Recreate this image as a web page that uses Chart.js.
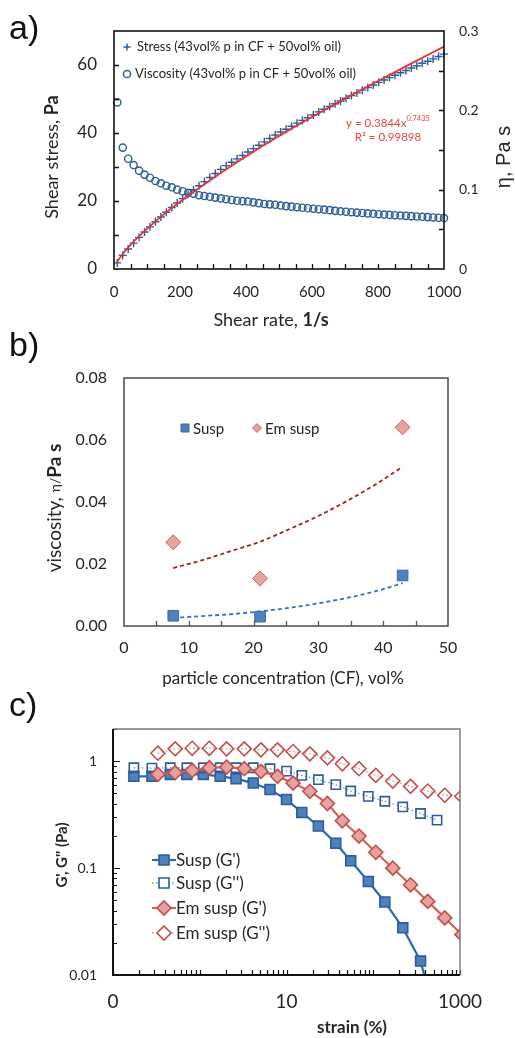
<!DOCTYPE html>
<html>
<head>
<meta charset="utf-8">
<script src="https://cdn.jsdelivr.net/npm/chart.js@4.4.0/dist/chart.umd.min.js"></script>
<style>
  body { margin: 0; background: #fff; width: 515px; height: 1038px; position: relative; overflow: hidden; }
  canvas { position: absolute; left: 0; }
</style>
</head>
<body>
<canvas id="chartA" width="515" height="330" style="top:0"></canvas>
<canvas id="chartB" width="515" height="360" style="top:330px"></canvas>
<canvas id="chartC" width="515" height="348" style="top:690px"></canvas>
<script>
// ---- a) flow curve ----
const shearRate = [10, 26.5, 43, 59.5, 76, 92.5, 109, 125.5, 142, 158.5,
  175, 191.5, 208, 224.5, 241, 257.5, 274, 290.5, 307, 323.5,
  340, 356.5, 373, 389.5, 406, 422.5, 439, 455.5, 472, 488.5,
  505, 521.5, 538, 554.5, 571, 587.5, 604, 620.5, 637, 653.5,
  670, 686.5, 703, 719.5, 736, 752.5, 769, 785.5, 802, 818.5,
  835, 851.5, 868, 884.5, 901, 917.5, 934, 950.5, 967, 983.5, 1000];
const shearStress = [1.8, 4.0, 5.9, 7.6, 9.3, 10.9, 12.4, 13.9, 15.3, 16.7,
  18.1, 19.4, 20.7, 22.0, 23.3, 24.5, 25.7, 26.9, 28.1, 29.3,
  30.4, 31.4, 32.4, 33.4, 34.4, 35.4, 36.4, 37.4, 38.4, 39.4,
  40.3, 41.1, 42.0, 42.9, 43.7, 44.5, 45.3, 46.2, 47.0, 47.8,
  48.6, 49.4, 50.2, 51.0, 51.8, 52.6, 53.4, 54.1, 54.9, 55.6,
  56.3, 57.0, 57.7, 58.4, 59.1, 59.8, 60.5, 61.1, 61.8, 62.5, 63.2];
const viscosityA = [0.210, 0.153, 0.139, 0.131, 0.124, 0.119, 0.115, 0.111, 0.108, 0.105,
  0.103, 0.100, 0.098, 0.096, 0.095, 0.093, 0.092, 0.091, 0.090, 0.089,
  0.088, 0.087, 0.086, 0.0855, 0.085, 0.084, 0.083, 0.082, 0.0815, 0.081,
  0.0800, 0.0793, 0.0786, 0.0779, 0.0772, 0.0766, 0.0760, 0.0754, 0.0748, 0.0742,
  0.0733, 0.0727, 0.0722, 0.0716, 0.0711, 0.0706, 0.0701, 0.0696, 0.0691, 0.0686,
  0.0682, 0.0678, 0.0674, 0.0670, 0.0666, 0.0662, 0.0658, 0.0654, 0.0650, 0.0646, 0.0642];
const fitRate = [8, 20, 50, 100, 150, 200, 300, 400, 500, 600, 700, 800, 900, 1000];
const fitStress = [1.8, 3.6, 7.1, 11.8, 16.0, 19.8, 26.7, 33.1, 39.1, 44.7, 50.1, 55.3, 60.4, 65.4];
const aTicksX = [0, 200, 400, 600, 800, 1000];
const aLabelsX = ["0", "200", "400", "600", "800", "1000"];
const aTicksY = [0, 20, 40, 60];
const aTicksY2 = [0, 0.1, 0.2, 0.3];
const aLabelsY2 = ["0", "0.1", "0.2", "0.3"];

// ---- b) viscosity vs concentration ----
const concB = [7.6, 21, 43];
const suspVisc = [0.0033, 0.0030, 0.0163];
const emVisc = [0.0270, 0.0153, 0.0641];
const trendConc = [7.6, 12, 17, 21, 26, 30, 35, 39, 43];
const suspTrend = [0.0026, 0.0032, 0.0039, 0.0047, 0.0060, 0.0073, 0.0093, 0.0113, 0.0138];
const emTrend = [0.0187, 0.0212, 0.0245, 0.0272, 0.0317, 0.0355, 0.0410, 0.0459, 0.0514];
const bTicksX = [0, 10, 20, 30, 40, 50];
const bTicksY = [0, 0.02, 0.04, 0.06, 0.08];

// ---- c) amplitude sweep ----
const suspStrain = [0.174, 0.281, 0.457, 0.709, 1.10, 1.72, 2.62, 4.14, 6.45, 10.0,
  15.0, 23.3, 37.0, 55.0, 87.7, 136, 219, 351, 544];
const suspGp = [0.721, 0.721, 0.752, 0.752, 0.752, 0.721, 0.686, 0.624, 0.542, 0.438,
  0.331, 0.247, 0.171, 0.117, 0.0749, 0.0482, 0.0276, 0.0135, 0.0035];
const suspGpp = [0.868, 0.861, 0.868, 0.868, 0.868, 0.868, 0.868, 0.868, 0.850, 0.807,
  0.736, 0.671, 0.603, 0.526, 0.469, 0.422, 0.373, 0.324, 0.281];
const emStrain = [0.329, 0.521, 0.818, 1.29, 2.04, 3.26, 5.08, 7.88, 11.9, 18.6,
  29.6, 44.0, 68.5, 107, 168, 269, 425, 667, 1050];
const emGp = [0.752, 0.780, 0.819, 0.868, 0.880, 0.850, 0.802, 0.721, 0.624, 0.523,
  0.402, 0.277, 0.1995, 0.1406, 0.0998, 0.0698, 0.0488, 0.0342, 0.0239];
const emGpp = [1.187, 1.304, 1.321, 1.321, 1.304, 1.304, 1.276, 1.276, 1.231, 1.172,
  1.075, 0.946, 0.850, 0.736, 0.652, 0.582, 0.526, 0.480, 0.470];
const cTicksX = [0.1, 10, 1000];
const cLabelsX = ["0", "10", "1000"];
const cTicksY = [0.01, 0.1, 1];
const cLabelsY = ["0.01", "0.1", "1"];

const BLUE_DARK = "#2d5d9b";
const BLUE = "#4f81bd";
const RED = "#c0504d";
const PINK = "#e6a29e";
const TXT = "#262626";

function pts(xs, ys) {
  return xs.map((x, i) => ({ x: x, y: ys[i] }));
}

function fixedTicks(values) {
  return function (scale) {
    scale.ticks = values.map((v) => ({ value: v }));
  };
}

function axis(extra) {
  return Object.assign({
    grid: { display: false, drawTicks: false },
    border: { display: false },
  }, extra);
}

// text made of parts with different fonts, centered on (x, y)
function drawRich(ctx, parts, x, y, angle) {
  ctx.save();
  ctx.translate(x, y);
  ctx.rotate(angle || 0);
  let total = 0;
  parts.forEach((p) => {
    ctx.font = p.font;
    p.w = ctx.measureText(p.text).width;
    total += p.w;
  });
  let cx = -total / 2;
  ctx.textAlign = "left";
  ctx.textBaseline = "middle";
  parts.forEach((p) => {
    ctx.font = p.font;
    ctx.fillStyle = p.color || TXT;
    ctx.fillText(p.text, cx, p.dy || 0);
    cx += p.w;
  });
  ctx.restore();
}

function text(ctx, s, x, y, font, color, align) {
  ctx.save();
  ctx.font = font;
  ctx.fillStyle = color || TXT;
  ctx.textAlign = align || "left";
  ctx.textBaseline = "middle";
  ctx.fillText(s, x, y);
  ctx.restore();
}

// tick marks pointing into the plot
function innerTicks(ctx, scale, values, len, side) {
  const a = scale.chart.chartArea;
  ctx.beginPath();
  values.forEach((v) => {
    const p = Math.round(scale.getPixelForValue(v)) + 0.5;
    if (side === "bottom") { ctx.moveTo(p, a.bottom); ctx.lineTo(p, a.bottom - len); }
    if (side === "left") { ctx.moveTo(a.left, p); ctx.lineTo(a.left + len, p); }
    if (side === "right") { ctx.moveTo(a.right, p); ctx.lineTo(a.right - len, p); }
  });
  ctx.stroke();
}

function range(from, to, step) {
  const out = [];
  for (let v = from; v <= to + 1e-9; v += step) out.push(v);
  return out;
}

function logMinor(lo, hi) {
  const out = [];
  for (let d = lo; d < hi; d *= 10) {
    for (let k = 1; k <= 9; k++) out.push(d * k);
  }
  out.push(hi);
  return out;
}

function marker(ctx, style, x, y, r, fill, stroke, lw) {
  ctx.save();
  ctx.lineWidth = lw;
  ctx.strokeStyle = stroke;
  ctx.fillStyle = fill;
  ctx.beginPath();
  if (style === "rect") ctx.rect(x - r, y - r, 2 * r, 2 * r);
  if (style === "diamond") { ctx.moveTo(x, y - r); ctx.lineTo(x + r, y); ctx.lineTo(x, y + r); ctx.lineTo(x - r, y); ctx.closePath(); }
  if (style === "circle") ctx.arc(x, y, r, 0, Math.PI * 2);
  if (style === "plus") { ctx.moveTo(x - r, y); ctx.lineTo(x + r, y); ctx.moveTo(x, y - r); ctx.lineTo(x, y + r); }
  if (fill !== "none" && style !== "plus") ctx.fill();
  ctx.stroke();
  ctx.restore();
}

// ================= chart a =================
new Chart(document.getElementById("chartA"), {
  type: "scatter",
  data: {
    datasets: [
      {
        label: "fit",
        type: "line",
        data: pts(fitRate, fitStress),
        borderColor: "#e8342b",
        borderWidth: 1.8,
        pointRadius: 0,
        cubicInterpolationMode: "monotone",
        yAxisID: "y",
        order: 0,
        clip: false,
      },
      {
        label: "Stress (43vol% p in CF + 50vol% oil)",
        data: pts(shearRate, shearStress),
        pointStyle: "cross",
        pointRadius: 4,
        pointBorderWidth: 1.4,
        borderColor: BLUE_DARK,
        backgroundColor: BLUE_DARK,
        yAxisID: "y",
        order: 1,
        clip: false,
      },
      {
        label: "Viscosity (43vol% p in CF + 50vol% oil)",
        data: pts(shearRate, viscosityA),
        pointStyle: "circle",
        pointRadius: 3.6,
        pointBorderWidth: 1.4,
        borderColor: BLUE_DARK,
        backgroundColor: "rgba(0,0,0,0)",
        yAxisID: "y2",
        order: 2,
        clip: false,
      },
    ],
  },
  options: {
    responsive: false,
    animation: false,
    events: [],
    layout: { autoPadding: false, padding: { top: 31, left: 0, right: 0, bottom: 0 } },
    plugins: { legend: { display: false }, tooltip: { enabled: false } },
    scales: {
      x: axis({
        type: "linear", min: 0, max: 1000,
        afterFit: (s) => { s.height = 61; },
        afterBuildTicks: fixedTicks(aTicksX),
        ticks: { padding: 14, color: TXT, font: { family: "Lato", size: 15 }, maxRotation: 0, autoSkip: false, callback: (v, i) => aLabelsX[i] },
      }),
      y: axis({
        position: "left", min: 0, max: 70,
        afterFit: (s) => { s.width = 114; },
        afterBuildTicks: fixedTicks(aTicksY),
        ticks: { padding: 17, color: TXT, font: { family: "Lato", size: 17 } },
      }),
      y2: axis({
        position: "right", min: 0, max: 0.3,
        afterFit: (s) => { s.width = 71; },
        afterBuildTicks: fixedTicks(aTicksY2),
        ticks: { padding: 15, color: TXT, font: { family: "Lato", size: 14 }, callback: (v, i) => aLabelsY2[i] },
      }),
    },
  },
  plugins: [{
    id: "decorA",
    afterDraw(chart) {
      const ctx = chart.ctx;
      const a = chart.chartArea;
      ctx.save();
      ctx.strokeStyle = "#111";
      ctx.lineWidth = 1.3;
      innerTicks(ctx, chart.scales.x, range(50, 950, 50), 5, "bottom");
      innerTicks(ctx, chart.scales.y, range(10, 60, 10), 5, "left");
      innerTicks(ctx, chart.scales.y2, range(0.05, 0.25, 0.05), 5, "right");
      ctx.lineWidth = 1.6;
      ctx.strokeRect(a.left, a.top, a.right - a.left, a.bottom - a.top);
      ctx.restore();

      text(ctx, "a)", 9, 30, "34px 'Liberation Sans'", "#111");
      drawRich(ctx, [
        { text: "Shear stress, ", font: "18px Lato" },
        { text: "Pa", font: "bold 18px Lato" },
      ], 52, 157, -Math.PI / 2);
      drawRich(ctx, [{ text: "η, Pa s", font: "20px 'Liberation Sans'" }], 504, 157, -Math.PI / 2);
      drawRich(ctx, [
        { text: "Shear rate, ", font: "18px Lato" },
        { text: "1/s", font: "bold 18px Lato" },
      ], 271, 320, 0);

      // legend
      marker(ctx, "plus", 127, 47, 3.5, "none", BLUE_DARK, 1.5);
      text(ctx, chart.data.datasets[1].label, 137, 47, "13px Lato", TXT);
      marker(ctx, "circle", 127, 74, 3.6, "none", BLUE_DARK, 1.5);
      text(ctx, chart.data.datasets[2].label, 135, 74, "13px Lato", TXT);

      // trendline equation
      drawRich(ctx, [
        { text: "y = 0.3844x", font: "11.5px Lato", color: "#e8453c" },
        { text: "0.7435", font: "7.5px Lato", color: "#e8453c", dy: -4 },
      ], 388, 123, 0);
      drawRich(ctx, [{ text: "R² = 0.99898", font: "11.5px Lato", color: "#e8453c" }], 388, 137, 0);
    },
  }],
});

// ================= chart b =================
new Chart(document.getElementById("chartB"), {
  type: "scatter",
  data: {
    datasets: [
      {
        label: "Susp",
        data: pts(concB, suspVisc),
        pointStyle: "rect",
        pointRadius: 7.5,
        pointBorderWidth: 1,
        borderColor: "#3a6aa5",
        backgroundColor: BLUE,
        order: 0,
        clip: false,
      },
      {
        label: "Em susp",
        data: pts(concB, emVisc),
        pointStyle: "rectRot",
        pointRadius: 7.5,
        pointBorderWidth: 1,
        borderColor: "#c46a66",
        backgroundColor: PINK,
        order: 1,
        clip: false,
      },
      {
        label: "susp trend",
        type: "line",
        data: pts(trendConc, suspTrend),
        borderColor: "#3c70b4",
        borderWidth: 1.8,
        borderDash: [4, 3],
        pointRadius: 0,
        cubicInterpolationMode: "monotone",
        order: 2,
      },
      {
        label: "em trend",
        type: "line",
        data: pts(trendConc, emTrend),
        borderColor: "#a3231f",
        borderWidth: 1.8,
        borderDash: [4, 3],
        pointRadius: 0,
        cubicInterpolationMode: "monotone",
        order: 3,
      },
    ],
  },
  options: {
    responsive: false,
    animation: false,
    events: [],
    layout: { autoPadding: false, padding: { top: 48, left: 0, right: 67, bottom: 0 } },
    plugins: { legend: { display: false }, tooltip: { enabled: false } },
    scales: {
      x: axis({
        type: "linear", min: 0, max: 50,
        afterFit: (s) => { s.height = 64; },
        afterBuildTicks: fixedTicks(bTicksX),
        ticks: { padding: 12, color: TXT, font: { family: "Lato", size: 16 }, maxRotation: 0, autoSkip: false },
      }),
      y: axis({
        min: 0, max: 0.08,
        afterFit: (s) => { s.width = 124; },
        afterBuildTicks: fixedTicks(bTicksY),
        ticks: { padding: 17, color: TXT, font: { family: "Lato", size: 16 }, callback: (v) => v.toFixed(2) },
      }),
    },
  },
  plugins: [{
    id: "decorB",
    afterDraw(chart) {
      const ctx = chart.ctx;
      const a = chart.chartArea;
      ctx.save();
      ctx.strokeStyle = "#555";
      ctx.lineWidth = 1.3;
      innerTicks(ctx, chart.scales.x, range(5, 45, 5), 5, "bottom");
      ctx.lineWidth = 1.6;
      ctx.strokeRect(a.left, a.top, a.right - a.left, a.bottom - a.top);
      ctx.restore();

      text(ctx, "b)", 9, 17, "34px 'Liberation Sans'", "#111");
      drawRich(ctx, [
        { text: "viscosity, ", font: "19px Lato" },
        { text: "η/", font: "14px Lato" },
        { text: "Pa s", font: "bold 19px Lato" },
      ], 55, 178, -Math.PI / 2);
      drawRich(ctx, [{ text: "particle concentration (CF), vol%", font: "17px Lato" }], 283, 349, 0);

      marker(ctx, "rect", 185, 98, 4, BLUE, "#3a6aa5", 1);
      text(ctx, "Susp", 193, 99, "15px Lato", TXT);
      marker(ctx, "diamond", 257, 98, 4.5, PINK, "#c46a66", 1);
      text(ctx, "Em susp", 265, 99, "15px Lato", TXT);
    },
  }],
});

// ================= chart c =================
const cSeries = [
  { label: "Susp (G')", x: suspStrain, y: suspGp, style: "rect", r: 7, fill: BLUE, stroke: BLUE_DARK, line: "#3068ad", dash: [] },
  { label: "Susp (G'')", x: suspStrain, y: suspGpp, style: "rect", r: 6.5, fill: "rgba(0,0,0,0)", stroke: BLUE_DARK, line: "#6d97cc", dash: [1.5, 2.5] },
  { label: "Em susp (G')", x: emStrain, y: emGp, style: "rectRot", r: 7, fill: PINK, stroke: RED, line: "#d4625c", dash: [] },
  { label: "Em susp (G'')", x: emStrain, y: emGpp, style: "rectRot", r: 7, fill: "rgba(0,0,0,0)", stroke: RED, line: "#de8a86", dash: [1.5, 2.5] },
];

new Chart(document.getElementById("chartC"), {
  type: "line",
  data: {
    datasets: cSeries.map((s, i) => ({
      label: s.label,
      data: pts(s.x, s.y),
      borderColor: s.line,
      borderWidth: s.dash.length ? 1.3 : 2.2,
      borderDash: s.dash,
      pointStyle: s.style,
      pointRadius: s.r,
      pointBorderWidth: 1.6,
      pointBorderColor: s.stroke,
      pointBackgroundColor: s.fill,
      order: 3 - i,
      clip: 0,
    })),
  },
  options: {
    responsive: false,
    animation: false,
    events: [],
    layout: { autoPadding: false, padding: { top: 39, left: 0, right: 55, bottom: 0 } },
    plugins: { legend: { display: false }, tooltip: { enabled: false } },
    scales: {
      x: axis({
        type: "logarithmic", min: 0.1, max: 1000,
        afterFit: (s) => { s.height = 63; },
        afterBuildTicks: fixedTicks(cTicksX),
        ticks: { padding: 15, color: TXT, font: { family: "Lato", size: 19 }, maxRotation: 0, autoSkip: false, callback: (v, i) => cLabelsX[i] },
      }),
      y: axis({
        type: "logarithmic", min: 0.01, max: 2,
        afterFit: (s) => { s.width = 113; },
        afterBuildTicks: fixedTicks(cTicksY),
        ticks: { padding: 16, color: TXT, font: { family: "Lato", size: 14 }, callback: (v, i) => cLabelsY[i] },
      }),
    },
  },
  plugins: [{
    id: "decorC",
    afterDraw(chart) {
      const ctx = chart.ctx;
      const a = chart.chartArea;
      ctx.save();
      ctx.strokeStyle = "#111";
      ctx.lineWidth = 1.2;
      innerTicks(ctx, chart.scales.x, logMinor(0.1, 1000), 5, "bottom");
      innerTicks(ctx, chart.scales.y, logMinor(0.01, 1).concat([2]), 4, "left");
      innerTicks(ctx, chart.scales.y, [0.1, 1], 7, "left");
      ctx.strokeStyle = "#777";
      ctx.lineWidth = 1.4;
      ctx.beginPath();
      ctx.moveTo(a.left, a.top); ctx.lineTo(a.right, a.top); ctx.lineTo(a.right, a.bottom);
      ctx.stroke();
      ctx.strokeStyle = "#111";
      ctx.lineWidth = 2;
      ctx.beginPath();
      ctx.moveTo(a.left, a.top); ctx.lineTo(a.left, a.bottom); ctx.lineTo(a.right, a.bottom);
      ctx.stroke();
      ctx.restore();

      text(ctx, "c)", 9, 17, "34px 'Liberation Sans'", "#111");
      drawRich(ctx, [{ text: "G', G'' (Pa)", font: "bold 15px Lato" }], 62, 165, -Math.PI / 2);
      drawRich(ctx, [{ text: "strain (%)", font: "bold 17px Lato" }], 352, 338, 0);

      // legend
      const rows = [170, 193, 218, 243];
      cSeries.forEach((s, i) => {
        const y = rows[i];
        ctx.save();
        ctx.strokeStyle = s.line;
        ctx.lineWidth = s.dash.length ? 1.3 : 2.2;
        ctx.setLineDash(s.dash);
        ctx.beginPath();
        ctx.moveTo(152, y); ctx.lineTo(176, y);
        ctx.stroke();
        ctx.restore();
        const fill = s.fill.indexOf("rgba") === 0 ? "#fff" : s.fill;
        if (s.style === "rect") marker(ctx, "rect", 164, y, 5, fill, s.stroke, 1.6);
        else marker(ctx, "diamond", 164, y, 7, fill, s.stroke, 1.6);
        text(ctx, s.label, 176, y + 1, "17px Lato", TXT);
      });
    },
  }],
});
</script>
</body>
</html>
